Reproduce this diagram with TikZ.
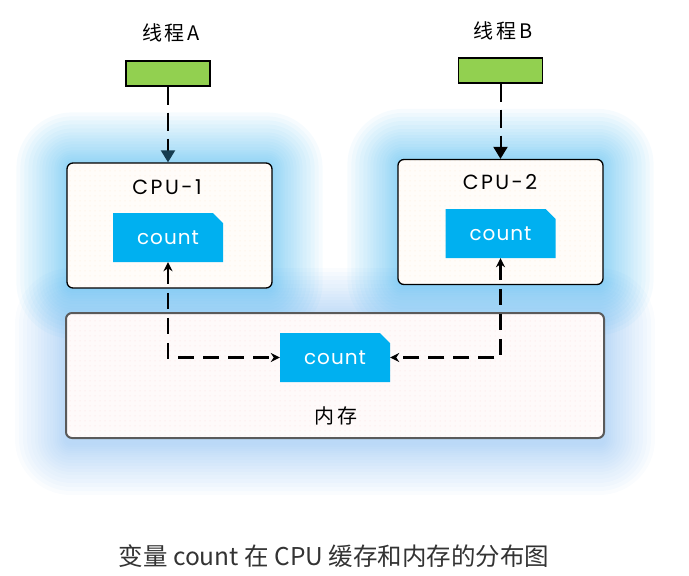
\documentclass[tikz,border=0pt]{standalone}
\usepackage{fontspec}
\newfontfamily\cjkfont{Noto Sans CJK SC}
\newfontfamily\cjkwide{Noto Sans CJK SC}[LetterSpace=14]
\newfontfamily\roundfont{Poppins}[LetterSpace=5]
\newfontfamily\roundwide{Poppins}[LetterSpace=12]
\definecolor{threadgreen}{RGB}{146,208,80}
\definecolor{countblue}{RGB}{0,176,240}
\definecolor{glowblue}{RGB}{90,190,240}
\definecolor{glowmem}{RGB}{130,185,240}
\definecolor{cpufill}{RGB}{255,252,249}
\definecolor{memfill}{RGB}{254,250,250}
\definecolor{memborder}{RGB}{90,90,90}
\definecolor{headteal}{RGB}{22,60,80}
\usetikzlibrary{arrows.meta,shapes.misc,backgrounds,fit,patterns.meta}

\begin{document}
\begin{tikzpicture}[x=1pt,y=-1pt,
    thread/.style={draw=black, line width=1.3pt, fill=threadgreen, minimum width=84pt, minimum height=25pt, inner sep=0pt},
    cpubox/.style={draw=black, line width=1.3pt, preaction={fill=cpufill}, pattern={Dots[distance=5pt, radius=0.5pt]}, pattern color=orange!18, rounded corners=6pt, minimum width=205pt, minimum height=125pt, inner sep=0pt},
    membox/.style={draw=memborder, line width=2pt, preaction={fill=memfill}, pattern={Dots[distance=5pt, radius=0.5pt]}, pattern color=red!14, rounded corners=6pt, minimum width=538pt, minimum height=125pt, inner sep=0pt},
    countbox/.style={chamfered rectangle, chamfered rectangle corners=north east, chamfered rectangle sep=5pt, fill=countblue, text=white, minimum width=110pt, minimum height=49pt, inner sep=0pt, font=\roundfont\fontsize{20}{22}\selectfont},
    threadlbl/.style={font=\cjkwide\fontsize{20}{22}\selectfont},
    cpulbl/.style={font=\roundwide\fontsize{20.5}{22}\selectfont},
    threadarrow/.style={line width=2pt, dash pattern=on 18pt off 8pt, -{Triangle[length=12pt, width=14pt, #1]}},
    threadarrow/.default={},
    link/.style={line width=2.2pt, dash pattern=on 16pt off 9pt, {Stealth[length=9pt, width=9pt]}-{Stealth[length=9pt, width=9pt]}}
  ]
  \useasboundingbox (0,0) rectangle (689,576);

  % Threads
  \node[threadlbl] (lblA) at (171,33) {线程A};
  \node[thread] (thrA) at (168,73.5) {};
  \node[threadlbl] (lblB) at (503,31) {线程B};
  \node[thread] (thrB) at (500.5,70.5) {};

  % CPUs
  \node[cpubox] (cpu1) at (169.5,225.5) {};
  \node[cpulbl] (cpuA) at (167,187) {CPU-1};
  \node[countbox] (cnt1) at (168,237.5) {count};

  \node[cpubox] (cpu2) at (500.5,222) {};
  \node[cpulbl] (cpuB) at (500,182) {CPU-2};
  \node[countbox] (cnt2) at (500.5,233.5) {count};

  % Memory
  \node[membox] (mem) at (335,375.5) {};
  \node[countbox] (cnt3) at (335,357.5) {count};
  \node[threadlbl] (memlbl) at (336,416) {内存};

  % Glow
  \begin{scope}[on background layer]
    \foreach \r in {0,2,...,12,15,18,...,30,34,38,...,50}
      \node[fit=(mem), inner sep=\r pt, yshift=-6pt, fill=glowmem, fill opacity=0.045, rounded corners={(\r+6)*1pt}] {};
    \foreach \b in {cpu1,cpu2}
      \foreach \r in {0,2,...,12,15,18,...,30,34,38,...,50}
        \node[fit=(\b), inner sep=\r pt, fill=glowblue, fill opacity=0.055, rounded corners={(\r+6)*1pt}] {};
  \end{scope}

  % Arrows
  \draw[threadarrow={color=headteal}] (thrA.south) -- (thrA.south |- cpu1.north);
  \draw[threadarrow] (thrB.south) -- (thrB.south |- cpu2.north);
  \draw[link] (cnt1.south) |- (cnt3.west);
  \draw[link] (cnt2.south) |- (cnt3.east);

  % Caption
  \node[font=\cjkfont\fontsize{24.5}{26}\selectfont, text=black!80] (caption) at (334,556) {变量 count 在 CPU 缓存和内存的分布图};
\end{tikzpicture}
\end{document}
